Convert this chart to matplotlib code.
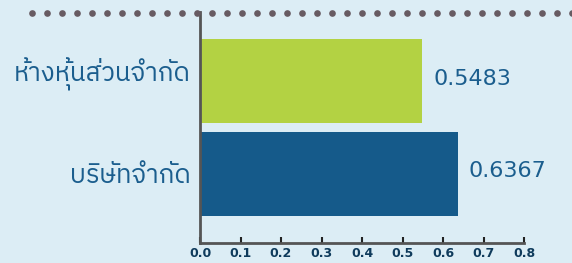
import matplotlib
matplotlib.use("Agg")
import matplotlib.pyplot as plt
from matplotlib import font_manager
import numpy as np

categories = ["บริษัทจำกัด", "ห้างหุ้นส่วนจำกัด"]
values = [0.6367, 0.5483]
bar_colors = ["#155a8a", "#b3d243"]
xticks = [0.0, 0.1, 0.2, 0.3, 0.4, 0.5, 0.6, 0.7, 0.8]

BG = "#dcedf5"
TEXT = "#1b5e8e"

names = sorted({f.name for f in font_manager.fontManager.ttflist})
thai = [n for n in names if "Thai" in n]
label_family = thai + ["Noto Sans", "DejaVu Sans"]

fig = plt.figure(figsize=(5.72, 2.63), dpi=100, facecolor=BG)
ax = fig.add_axes([200 / 572, 1 - 243 / 263, 324 / 572, 231 / 263])
ax.set_facecolor(BG)

y = np.arange(len(categories))
ax.barh(y, values, height=0.91, color=bar_colors)
ax.set_xlim(0, 0.8)
ax.set_ylim(-0.75, 1.75)

for yi, v in zip(y, values):
    ax.annotate(f"{v:.4f}", (v, yi), xytext=(8, 2), textcoords="offset points",
                va="center", ha="left", fontsize=16, color=TEXT, family="DejaVu Sans")

# category labels: baseline placed by hand, the marks above the letters differ
label_dy = [-7, 0]
for yi, cat, dy in zip(y, categories, label_dy):
    ax.annotate(cat, (0, yi), xytext=(-7, dy), textcoords="offset points",
                va="baseline", ha="right", fontsize=18.5, color=TEXT,
                family=label_family)
ax.set_yticks([])

ax.set_xticks(xticks)
ax.set_xticklabels([f"{t:.1f}" for t in xticks], fontsize=9, fontweight="bold",
                   color="#0f3b5c")
ax.tick_params(axis="x", direction="in", length=4, width=1.5, color="#222222", pad=3)

for side in ["top", "right"]:
    ax.spines[side].set_visible(False)
for side in ["left", "bottom"]:
    ax.spines[side].set_color("#555555")
    ax.spines[side].set_linewidth(2)

# dotted rule along the top
xs = np.arange(32, 580, 15.0) / 572
fig.add_artist(plt.Line2D(xs, np.full_like(xs, 1 - 12.5 / 263), ls="none",
                          marker="o", ms=4.8, mfc="#675b62", mec="none",
                          transform=fig.transFigure))

fig.savefig("out.png", dpi=100, facecolor=BG)
